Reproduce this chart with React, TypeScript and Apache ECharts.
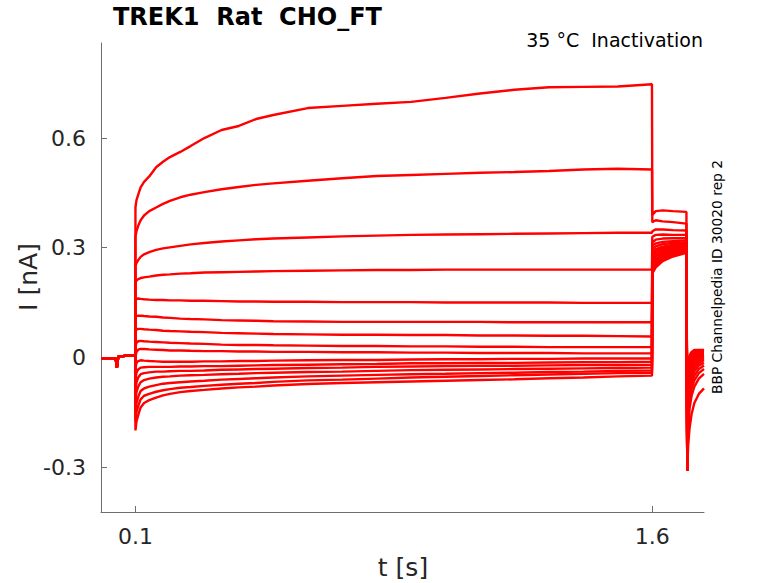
import React, { useEffect, useRef } from "react";
import * as echarts from "echarts";

// Time bases (s)
const baseT = [0, 0.035, 0.043, 0.046, 0.05, 0.07, 0.0995];
const baseI = [-0.002, -0.002, -0.004, -0.028, 0.002, 0.004, 0.004];
const stepT = [0.1, 0.103, 0.108, 0.115, 0.125, 0.14, 0.16, 0.18, 0.2, 0.23, 0.26, 0.3, 0.35, 0.4, 0.45, 0.5, 0.6, 0.7, 0.8, 0.9, 1.0, 1.1, 1.2, 1.3, 1.4, 1.5, 1.599];
const testT = [1.6, 1.61, 1.63, 1.66, 1.699];
const tailT = [1.7, 1.7015, 1.704, 1.708, 1.714, 1.722, 1.735, 1.75];

// Currents (nA) during the 1.5 s conditioning step, one row per sweep
const stepI = [
  [0.41, 0.43, 0.445, 0.465, 0.48, 0.495, 0.52, 0.535, 0.548, 0.562, 0.578, 0.6, 0.622, 0.633, 0.652, 0.663, 0.682, 0.688, 0.694, 0.699, 0.71, 0.722, 0.732, 0.739, 0.74, 0.741, 0.747],
  [0.33, 0.345, 0.36, 0.375, 0.388, 0.4, 0.41, 0.42, 0.428, 0.438, 0.445, 0.452, 0.46, 0.466, 0.472, 0.476, 0.483, 0.49, 0.496, 0.499, 0.502, 0.505, 0.507, 0.51, 0.514, 0.516, 0.514],
  [0.25, 0.258, 0.266, 0.275, 0.282, 0.288, 0.294, 0.298, 0.301, 0.305, 0.309, 0.313, 0.317, 0.32, 0.323, 0.325, 0.328, 0.331, 0.333, 0.335, 0.336, 0.337, 0.338, 0.339, 0.34, 0.341, 0.341],
  [0.205, 0.21, 0.214, 0.217, 0.219, 0.221, 0.224, 0.226, 0.227, 0.229, 0.23, 0.232, 0.233, 0.234, 0.235, 0.236, 0.237, 0.238, 0.239, 0.239, 0.24, 0.24, 0.24, 0.24, 0.24, 0.24, 0.24],
  [0.16, 0.16, 0.161, 0.16, 0.159, 0.158, 0.157, 0.157, 0.156, 0.156, 0.155, 0.155, 0.154, 0.153, 0.153, 0.152, 0.152, 0.151, 0.151, 0.151, 0.15, 0.15, 0.15, 0.15, 0.149, 0.149, 0.149],
  [0.11, 0.113, 0.114, 0.114, 0.113, 0.112, 0.111, 0.109, 0.108, 0.106, 0.105, 0.104, 0.102, 0.101, 0.1, 0.099, 0.098, 0.097, 0.097, 0.097, 0.097, 0.097, 0.096, 0.096, 0.096, 0.096, 0.096],
  [0.07, 0.076, 0.078, 0.078, 0.077, 0.076, 0.075, 0.073, 0.072, 0.071, 0.07, 0.069, 0.067, 0.066, 0.065, 0.064, 0.063, 0.062, 0.062, 0.061, 0.061, 0.06, 0.06, 0.059, 0.059, 0.058, 0.057],
  [0.03, 0.04, 0.044, 0.045, 0.044, 0.043, 0.042, 0.041, 0.04, 0.039, 0.038, 0.037, 0.035, 0.034, 0.034, 0.033, 0.032, 0.031, 0.031, 0.03, 0.03, 0.029, 0.029, 0.028, 0.028, 0.028, 0.028],
  [0.0, 0.015, 0.021, 0.023, 0.023, 0.022, 0.021, 0.02, 0.019, 0.019, 0.018, 0.017, 0.017, 0.016, 0.016, 0.015, 0.015, 0.014, 0.014, 0.013, 0.013, 0.012, 0.012, 0.012, 0.011, 0.011, 0.011],
  [-0.03, -0.015, -0.01, -0.008, -0.009, -0.01, -0.011, -0.012, -0.012, -0.012, -0.012, -0.011, -0.011, -0.01, -0.01, -0.009, -0.008, -0.007, -0.007, -0.006, -0.005, -0.005, -0.004, -0.004, -0.003, -0.003, -0.003],
  [-0.06, -0.042, -0.033, -0.028, -0.027, -0.026, -0.026, -0.026, -0.026, -0.025, -0.025, -0.024, -0.024, -0.023, -0.022, -0.021, -0.02, -0.019, -0.018, -0.016, -0.016, -0.015, -0.015, -0.014, -0.013, -0.013, -0.012],
  [-0.09, -0.068, -0.055, -0.046, -0.043, -0.041, -0.039, -0.039, -0.038, -0.037, -0.037, -0.036, -0.034, -0.033, -0.032, -0.031, -0.029, -0.028, -0.026, -0.025, -0.024, -0.023, -0.023, -0.022, -0.021, -0.021, -0.02],
  [-0.12, -0.095, -0.08, -0.068, -0.062, -0.058, -0.055, -0.053, -0.052, -0.05, -0.049, -0.048, -0.046, -0.045, -0.043, -0.042, -0.04, -0.039, -0.037, -0.035, -0.034, -0.033, -0.032, -0.031, -0.03, -0.029, -0.028],
  [-0.15, -0.125, -0.108, -0.092, -0.085, -0.08, -0.076, -0.072, -0.07, -0.068, -0.066, -0.064, -0.061, -0.059, -0.057, -0.055, -0.052, -0.05, -0.048, -0.046, -0.045, -0.043, -0.042, -0.04, -0.039, -0.037, -0.036],
  [-0.175, -0.15, -0.133, -0.115, -0.105, -0.1, -0.094, -0.09, -0.087, -0.083, -0.081, -0.078, -0.075, -0.072, -0.07, -0.067, -0.063, -0.061, -0.058, -0.055, -0.053, -0.051, -0.049, -0.047, -0.045, -0.043, -0.042],
  [-0.2, -0.175, -0.158, -0.137, -0.125, -0.117, -0.11, -0.104, -0.1, -0.095, -0.092, -0.089, -0.085, -0.082, -0.08, -0.077, -0.073, -0.07, -0.068, -0.066, -0.064, -0.062, -0.06, -0.057, -0.055, -0.052, -0.05],
];

// Currents (nA) during the test pulse
const testI = [
  [0.39, 0.4, 0.402, 0.4, 0.398],
  [0.37, 0.375, 0.372, 0.37, 0.366],
  [0.345, 0.35, 0.35, 0.348, 0.347],
  [0.33, 0.335, 0.336, 0.335, 0.335],
  [0.315, 0.322, 0.325, 0.326, 0.326],
  [0.305, 0.312, 0.316, 0.318, 0.32],
  [0.295, 0.304, 0.31, 0.313, 0.315],
  [0.285, 0.296, 0.303, 0.308, 0.311],
  [0.278, 0.29, 0.298, 0.304, 0.308],
  [0.27, 0.283, 0.293, 0.3, 0.305],
  [0.262, 0.277, 0.288, 0.296, 0.302],
  [0.255, 0.27, 0.283, 0.292, 0.299],
  [0.248, 0.264, 0.278, 0.288, 0.296],
  [0.242, 0.258, 0.273, 0.284, 0.292],
  [0.236, 0.252, 0.268, 0.28, 0.289],
  [0.23, 0.246, 0.263, 0.276, 0.286],
];

// Currents (nA) in the tail after the test pulse
const tailI = [
  [0.398, -0.31, -0.04, 0.005, 0.015, 0.02, 0.02, 0.02],
  [0.366, -0.31, -0.05, 0.0, 0.012, 0.018, 0.02, 0.018],
  [0.347, -0.31, -0.06, -0.005, 0.008, 0.015, 0.018, 0.016],
  [0.335, -0.31, -0.07, -0.01, 0.005, 0.012, 0.015, 0.015],
  [0.326, -0.31, -0.08, -0.018, 0.0, 0.008, 0.012, 0.012],
  [0.32, -0.31, -0.09, -0.025, -0.005, 0.004, 0.01, 0.01],
  [0.315, -0.31, -0.1, -0.035, -0.012, 0.0, 0.006, 0.008],
  [0.311, -0.31, -0.11, -0.045, -0.02, -0.006, 0.002, 0.005],
  [0.308, -0.31, -0.12, -0.055, -0.028, -0.012, -0.002, 0.002],
  [0.305, -0.31, -0.13, -0.065, -0.037, -0.02, -0.008, -0.003],
  [0.302, -0.31, -0.14, -0.078, -0.047, -0.028, -0.015, -0.008],
  [0.299, -0.31, -0.15, -0.09, -0.058, -0.038, -0.022, -0.015],
  [0.296, -0.31, -0.165, -0.105, -0.07, -0.05, -0.032, -0.022],
  [0.292, -0.31, -0.18, -0.12, -0.085, -0.063, -0.043, -0.032],
  [0.289, -0.31, -0.2, -0.14, -0.105, -0.08, -0.058, -0.045],
  [0.286, -0.31, -0.24, -0.195, -0.155, -0.125, -0.1, -0.085],
];

const xTicks = [0.1, 1.6];
const yTicks = [-0.3, 0, 0.3, 0.6];

const FONT = "DejaVu Sans";
const TXT = "#262626";
const AX = "#6e6e6e";

function zip(t: number[], v: number[]) {
  return t.map((x, i) => [x, v[i]]);
}

export default function App() {
  const ref = useRef<HTMLDivElement>(null);
  useEffect(() => {
    if (!ref.current) return;
    const chart = echarts.init(ref.current, undefined, { renderer: "svg" });
    const series = stepI.map((row, k) => ({
      type: "line",
      data: [
        ...zip(baseT, baseI),
        ...zip(stepT, row),
        ...zip(testT, testI[k]),
        ...zip(tailT, tailI[k]),
      ],
      showSymbol: false,
      symbol: "none",
      lineStyle: { color: "#ff0000", width: 2.4 },
      silent: true,
    }));
    chart.setOption({
      animation: false,
      grid: { left: 101, right: 74, top: 43, bottom: 71 },
      xAxis: {
        type: "value",
        min: 0,
        max: 1.75,
        axisLine: { show: true, onZero: false, lineStyle: { color: AX, width: 1 } },
        axisTick: { show: true, inside: true, length: 6, customValues: xTicks, lineStyle: { color: AX } },
        axisLabel: { customValues: xTicks, fontFamily: FONT, fontSize: 22, color: TXT, margin: 13 },
        splitLine: { show: false },
      },
      yAxis: {
        type: "value",
        min: -0.423,
        max: 0.86,
        axisLine: { show: true, onZero: false, lineStyle: { color: AX, width: 1 } },
        axisTick: { show: true, inside: true, length: 6, customValues: yTicks, lineStyle: { color: AX } },
        axisLabel: { customValues: yTicks, fontFamily: FONT, fontSize: 22, color: TXT, margin: 15 },
        splitLine: { show: false },
      },
      series,
      graphic: [
        {
          type: "text",
          left: 113,
          top: 5,
          style: { text: "TREK1  Rat  CHO_FT", fontFamily: FONT, fontWeight: "bold", fontSize: 24, fill: "#000" },
        },
        {
          type: "text",
          right: 75,
          top: 30,
          style: { text: "35 °C  Inactivation", fontFamily: FONT, fontSize: 19, fill: "#000" },
        },
        {
          type: "text",
          x: 403,
          y: 567,
          style: { text: "t [s]", fontFamily: FONT, fontSize: 25, fill: TXT, align: "center", verticalAlign: "middle" },
        },
        {
          type: "text",
          x: 28,
          y: 277,
          rotation: Math.PI / 2,
          style: { text: "I [nA]", fontFamily: FONT, fontSize: 25, fill: TXT, align: "center", verticalAlign: "middle" },
        },
        {
          type: "text",
          x: 717,
          y: 277,
          rotation: Math.PI / 2,
          style: { text: "BBP Channelpedia ID 30020 rep 2", fontFamily: FONT, fontSize: 13.8, fill: "#000", align: "center", verticalAlign: "middle" },
        },
      ],
    });
    return () => chart.dispose();
  }, []);
  return <div ref={ref} style={{ position: "fixed", left: 0, top: 0, width: 778, height: 583, background: "#fff" }} />;
}
